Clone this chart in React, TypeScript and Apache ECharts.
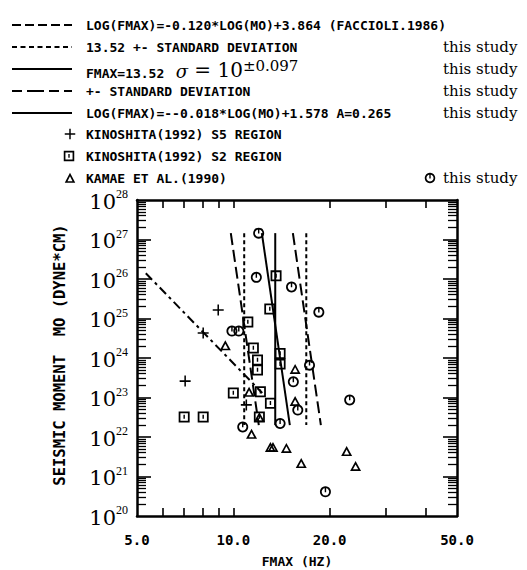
import React, { useEffect, useRef } from "react";
import * as echarts from "echarts";

// ---------- data ----------
const xLabelValues = [5, 10, 20, 50];
const xTickValues = [6, 7, 8, 9, 10, 20, 30, 40];
const yExponents = [20, 21, 22, 23, 24, 25, 26, 27, 28];

// [fmax (Hz), M0 (dyne*cm)]
const thisStudy = [
  [12.0, 1.45e27], [11.8, 1.1e26], [15.2, 6.3e25], [18.5, 1.45e25],
  [9.9, 4.8e24], [10.4, 4.8e24], [17.3, 6.6e23], [15.4, 2.5e23],
  [15.9, 4.8e22], [14.0, 2.2e22], [23.1, 8.7e22], [19.4, 4.1e20],
  [10.7, 1.8e22],
];
const kinoshitaS5 = [[8.97, 1.65e25], [8.05, 4.3e24], [7.07, 2.6e23], [10.98, 6.5e22]];
const kinoshitaS2 = [
  [7.02, 3.2e22], [8.05, 3.2e22], [10.0, 1.3e23], [13.6, 1.2e26],
  [13.0, 1.74e25], [11.1, 8.2e24], [11.55, 1.8e24], [11.9, 8.9e23],
  [11.9, 5.0e23], [12.15, 1.4e23], [13.06, 7.2e22], [12.06, 3.2e22],
  [14.0, 1.3e24], [14.0, 7.0e23],
];
const kamae = [
  [9.44, 2.1e24], [11.2, 1.4e23], [11.4, 1.2e22], [13.06, 5.6e21],
  [13.3, 5.6e21], [14.65, 5.3e21], [16.3, 2.2e21], [22.6, 4.4e21],
  [24.1, 1.85e21], [15.6, 5.3e23], [15.6, 8.2e22], [12.06, 3.2e22],
];

// relations given in the legend
const faccioliSlope = -0.12;
const faccioliIntercept = 3.864;
const faccioliM0Range = [1.4e26, 1.3e23];
const meanFmax = 13.52;
const sigmaLog = 0.097;
const regressionSlope = -0.018;
const regressionIntercept = 1.578;
const studyM0Range = [1.45e27, 2.0e22];

// ---------- helpers ----------
const L = Math.log10;
const toXY = (p: number[]) => [L(p[0]), L(p[1])];
const fromLaw = (slope: number, icpt: number, shift: number) => (m: number) => [
  Math.pow(10, slope * L(m) + icpt + shift),
  m,
];

const PATH_CIRCLE =
  "M5,0A5,5,0,1,1,4.99,0ZM5,1.6A3.4,3.4,0,1,0,5.01,1.6ZM4.35,1.6H5.65V5.4H4.35Z";
const PATH_SQUARE = "M0,0H10V10H0ZM1.6,1.6V8.4H8.4V1.6ZM4.35,3H5.65V6.6H4.35Z";
const PATH_TRI = "M5,0L10,9.5L0,9.5ZM5,3.3L2.6,8L7.4,8Z";
const PATH_PLUS = "M4.3,0H5.7V4.3H10V5.7H5.7V10H4.3V5.7H0V4.3H4.3Z";

echarts.graphic.registerShape("mkCircle", echarts.graphic.extendPath(PATH_CIRCLE, {}));
echarts.graphic.registerShape("mkSquare", echarts.graphic.extendPath(PATH_SQUARE, {}));
echarts.graphic.registerShape("mkTri", echarts.graphic.extendPath(PATH_TRI, {}));
echarts.graphic.registerShape("mkPlus", echarts.graphic.extendPath(PATH_PLUS, {}));

const MONO = "DejaVu Sans Mono";
const SERIF = "DejaVu Serif";

function lineSeries(pts: number[][], dash: any, width = 2) {
  return {
    type: "line",
    data: pts.map(toXY),
    symbol: "none",
    silent: true,
    lineStyle: { color: "#000", width, type: dash },
    z: 2,
  };
}

function scatterSeries(pts: number[][], path: string, size: any) {
  return {
    type: "scatter",
    data: pts.map(toXY),
    symbol: "path://" + path,
    symbolSize: size,
    itemStyle: { color: "#000", opacity: 1 },
    z: 3,
  };
}

function buildOption() {
  const faccioli = faccioliM0Range.map(fromLaw(faccioliSlope, faccioliIntercept, 0));
  const meanLine = studyM0Range.map((m) => [meanFmax, m]);
  const meanLo = studyM0Range.map((m) => [meanFmax * Math.pow(10, -sigmaLog), m]);
  const meanHi = studyM0Range.map((m) => [meanFmax * Math.pow(10, sigmaLog), m]);
  const reg = studyM0Range.map(fromLaw(regressionSlope, regressionIntercept, 0));
  const regLo = studyM0Range.map(fromLaw(regressionSlope, regressionIntercept, -sigmaLog));
  const regHi = studyM0Range.map(fromLaw(regressionSlope, regressionIntercept, sigmaLog));

  const minorY: number[] = [];
  for (let n = 20; n < 28; n++) for (let k = 2; k <= 9; k++) minorY.push(n + L(k));
  const majorY = yExponents.slice(1, -1);

  const xCommon = {
    type: "value",
    min: L(5),
    max: L(50),
    splitLine: { show: false },
    axisLine: { show: true, onZero: false, lineStyle: { color: "#000", width: 2.5 } },
    axisTick: {
      show: true,
      inside: true,
      length: 8,
      customValues: xTickValues.map(L),
      lineStyle: { color: "#000", width: 1.6 },
    },
  };
  const yCommon = {
    type: "value",
    min: 20,
    max: 28,
    splitLine: { show: false },
    axisLine: { show: true, onZero: false, lineStyle: { color: "#000", width: 2.5 } },
    axisTick: {
      show: true,
      inside: true,
      length: 9,
      customValues: minorY,
      lineStyle: { color: "#000", width: 1.3 },
    },
  };
  const yMajor = {
    type: "value",
    min: 20,
    max: 28,
    splitLine: { show: false },
    axisLine: { show: false },
    axisLabel: { show: false },
    axisTick: {
      show: true,
      inside: true,
      length: 14,
      customValues: majorY,
      lineStyle: { color: "#000", width: 1.6 },
    },
  };

  const rows = [25, 47, 69, 91, 113, 134, 156, 178];
  const lx1 = 12, lx2 = 72, tx = 86, studyX = 443;
  const mono = (t: string, y: number, x = tx) => ({
    type: "text",
    x,
    y,
    style: {
      text: t,
      fill: "#000",
      fontFamily: MONO,
      fontSize: 13,
      fontWeight: "bold",
      verticalAlign: "middle",
    },
  });
  const study = (y: number) => ({
    type: "text",
    x: studyX,
    y,
    style: { text: "this study", fill: "#000", fontFamily: SERIF, fontSize: 15, verticalAlign: "middle" },
  });
  const legLine = (y: number, dash: number[] | null) => ({
    type: "line",
    shape: { x1: lx1, y1: y, x2: lx2, y2: y },
    style: { stroke: "#000", lineWidth: 2, lineDash: dash || undefined },
  });
  const marker = (type: string, cx: number, cy: number, s = 1.05) => ({
    type,
    x: cx - 5 * s,
    y: cy - 5 * s,
    scaleX: s,
    scaleY: s,
    style: { fill: "#000" },
  });

  const graphic: any[] = [
    legLine(rows[0], [9, 4]),
    mono("LOG(FMAX)=-0.120*LOG(MO)+3.864 (FACCIOLI.1986)", rows[0]),
    legLine(rows[1], [5, 3.5]),
    mono("13.52 +- STANDARD DEVIATION", rows[1]),
    study(rows[1]),
    legLine(rows[2], null),
    {
      type: "text",
      x: tx,
      y: rows[2],
      style: {
        text: "{m|FMAX=13.52}{g|  σ}{e| = 10}{p|±0.097}",
        verticalAlign: "middle",
        rich: {
          m: { fontFamily: MONO, fontSize: 13, fontWeight: "bold", fill: "#000", verticalAlign: "bottom", lineHeight: 22 },
          g: { fontFamily: SERIF, fontSize: 18, fontStyle: "italic", fill: "#000", verticalAlign: "bottom", lineHeight: 22 },
          e: { fontFamily: SERIF, fontSize: 20, fill: "#000", verticalAlign: "bottom", lineHeight: 22 },
          p: { fontFamily: SERIF, fontSize: 15, fill: "#000", verticalAlign: "top", lineHeight: 16 },
        },
      },
    },
    study(rows[2]),
    legLine(rows[3], [10, 5, 17, 5]),
    mono("+- STANDARD DEVIATION", rows[3]),
    study(rows[3]),
    legLine(rows[4], null),
    mono("LOG(FMAX)=--0.018*LOG(MO)+1.578 A=0.265", rows[4]),
    study(rows[4]),
    marker("mkPlus", 70, rows[5]),
    mono("KINOSHITA(1992) S5 REGION", rows[5]),
    marker("mkSquare", 69, rows[6]),
    mono("KINOSHITA(1992) S2 REGION", rows[6]),
    marker("mkTri", 70, rows[7]),
    mono("KAMAE ET AL.(1990)", rows[7]),
    marker("mkCircle", 430, rows[7]),
    study(rows[7]),
    {
      type: "text",
      x: 60,
      y: 355,
      rotation: Math.PI / 2,
      style: {
        text: "SEISMIC MOMENT  MO (DYNE*CM)",
        fill: "#000",
        fontFamily: MONO,
        fontSize: 15.5,
        fontWeight: "bold",
        align: "center",
        verticalAlign: "middle",
      },
    },
    {
      type: "text",
      x: 297,
      y: 561,
      style: {
        text: "FMAX (HZ)",
        fill: "#000",
        fontFamily: MONO,
        fontSize: 13,
        fontWeight: "bold",
        align: "center",
        verticalAlign: "middle",
      },
    },
  ];

  return {
    animation: false,
    backgroundColor: "#fff",
    grid: { left: 137, top: 200, width: 320, height: 316, containLabel: false, outerBoundsMode: "none" },
    xAxis: [
      {
        ...xCommon,
        position: "bottom",
        axisLabel: {
          show: true,
          customValues: xLabelValues.map(L),
          formatter: (v: number) => Math.pow(10, v).toFixed(1),
          color: "#000",
          fontFamily: MONO,
          fontSize: 14,
          fontWeight: "bold",
          margin: 17,
        },
      },
      { ...xCommon, position: "top", axisLabel: { show: false } },
    ],
    yAxis: [
      {
        ...yCommon,
        position: "left",
        axisLabel: {
          show: true,
          customValues: yExponents,
          margin: 9,
          formatter: (v: number) => `{b|10}{s|${Math.round(v)}}`,
          rich: {
            b: { fontFamily: SERIF, fontSize: 21, color: "#000", verticalAlign: "bottom", lineHeight: 24 },
            s: { fontFamily: "Liberation Serif", fontSize: 12, color: "#000", verticalAlign: "top", lineHeight: 12 },
          },
        },
      },
      { ...yCommon, position: "right", axisLabel: { show: false } },
      { ...yMajor, position: "left" },
      { ...yMajor, position: "right" },
    ],
    graphic,
    series: [
      lineSeries(faccioli, [9, 4, 3, 4]),
      lineSeries(meanLine, "solid"),
      lineSeries(meanLo, [4, 3]),
      lineSeries(meanHi, [4, 3]),
      lineSeries(reg, "solid"),
      lineSeries(regLo, [12, 5]),
      lineSeries(regHi, [12, 5]),
      scatterSeries(kinoshitaS5, PATH_PLUS, 11),
      scatterSeries(kinoshitaS2, PATH_SQUARE, 11),
      scatterSeries(kamae, PATH_TRI, [11, 10]),
      scatterSeries(thisStudy, PATH_CIRCLE, 11),
    ],
  };
}

export default function App() {
  const ref = useRef<HTMLDivElement | null>(null);
  useEffect(() => {
    if (!ref.current) return;
    const chart = echarts.init(ref.current, null, { renderer: "svg" });
    chart.setOption(buildOption() as any);
    return () => chart.dispose();
  }, []);
  return (
    <div
      ref={ref}
      style={{ position: "fixed", left: 0, top: 0, width: 527, height: 570, background: "#fff" }}
    />
  );
}
